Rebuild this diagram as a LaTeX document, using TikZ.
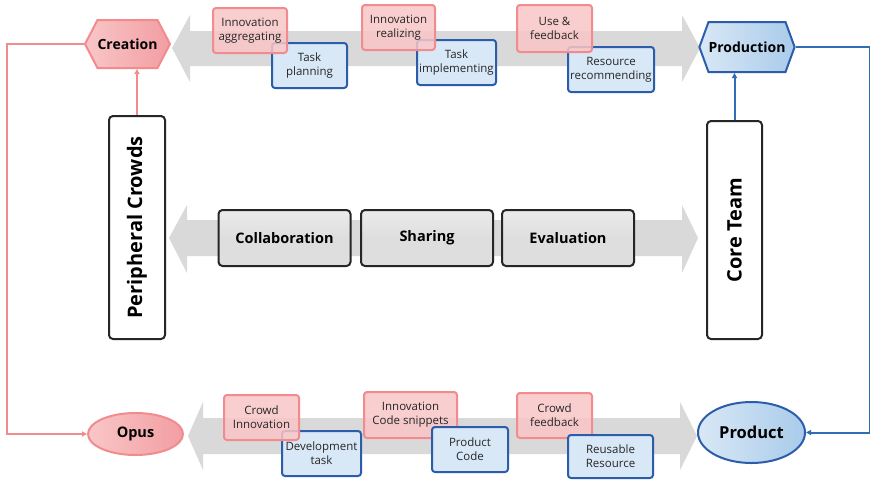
\documentclass[tikz,border=0pt]{standalone}
\usepackage{fontspec}
\setmainfont{Open Sans}
\usetikzlibrary{shapes.geometric,shapes.symbols,arrows.meta}

\definecolor{pinkline}{HTML}{F28B8E}
\definecolor{pinkfill}{HTML}{F9C6C7}
\definecolor{pinkdark}{HTML}{F29EA2}
\definecolor{blueline}{HTML}{2C5DAB}
\definecolor{bluefill}{HTML}{D9E8F6}
\definecolor{bluedark}{HTML}{A9CBEA}
\definecolor{bandgray}{HTML}{D9D9D9}
\definecolor{boxgray}{HTML}{DEDEDE}
\definecolor{linkblue}{HTML}{2F6DB5}

\begin{document}
\begin{tikzpicture}[x=1pt,y=-1pt,
  band/.style={fill=bandgray},
  pinkbox/.style={draw=pinkline, line width=2pt, fill=pinkfill, fill opacity=0.85,
    text opacity=1, rounded corners=3pt, align=center, inner sep=0pt,
    font=\fontsize{11.5}{14}\selectfont, text=black!85},
  bluebox/.style={draw=blueline, line width=2pt, fill=bluefill,
    rounded corners=3pt, align=center, inner sep=0pt,
    font=\fontsize{11.5}{14}\selectfont, text=black!85},
  midbox/.style={draw=black!85, line width=2pt, top color=boxgray!60, bottom color=boxgray,
    middle color=boxgray, rounded corners=4pt,
    minimum width=132pt, minimum height=56pt, font=\bfseries\fontsize{14.5}{16}\selectfont},
  rolebox/.style={draw=black!85, line width=2pt, fill=white, rounded corners=4pt,
    rotate=90, font=\bfseries\fontsize{20}{22}\selectfont},
  hexa/.style={shape=signal, signal to=west and east, line width=2pt,
    font=\bfseries\fontsize{14}{16}\selectfont, inner sep=0pt},
  oval/.style={ellipse, line width=2pt, inner sep=0pt},
  pinklink/.style={draw=pinkline, line width=2pt},
  bluelink/.style={draw=linkblue, line width=2pt},
  tip/.style={-{Triangle[length=5pt,width=5pt]}}
]
\useasboundingbox (0,0) rectangle (870,480);
\fill[white] (0,0) rectangle (870,480);

% three grey two-way bands
\fill[band] (172,48) -- (190,15) -- (190,31) -- (682,31) -- (682,15) -- (700,48)
  -- (682,82) -- (682,66) -- (190,66) -- (190,82) -- cycle;
\fill[band] (169,238) -- (187,205) -- (187,220) -- (682,220) -- (682,205) -- (698,238)
  -- (682,273) -- (682,256) -- (187,256) -- (187,273) -- cycle;
\fill[band] (188,436) -- (203,402) -- (203,418) -- (680,418) -- (680,402) -- (697,436)
  -- (680,470) -- (680,454) -- (203,454) -- (203,470) -- cycle;

% end points
\node[hexa, draw=pinkline, left color=pinkfill, right color=pinkdark,
  minimum width=85pt, minimum height=48pt, signal pointer angle=125] (crea) at (127.5,44) {Creation};
\node[hexa, draw=blueline, left color=bluefill, right color=bluedark,
  minimum width=92pt, minimum height=50pt, signal pointer angle=140] (prod) at (747,47) {Production};
\node[oval, draw=pinkline, left color=pinkfill, right color=pinkdark,
  minimum width=95pt, minimum height=42pt, font=\bfseries\fontsize{14.5}{16}\selectfont] (opus) at (135.5,434) {Opus};
\node[oval, draw=blueline, left color=bluefill, right color=bluedark,
  minimum width=107pt, minimum height=61pt, font=\bfseries\fontsize{16.5}{18}\selectfont] (product) at (751.5,432.5) {Product};

% actors
\node[rolebox, minimum width=223pt, minimum height=56pt] (peri) at (137,227.5) {Peripheral Crowds};
\node[rolebox, minimum width=218pt, minimum height=55pt] (core) at (734.5,230) {Core Team};

% middle activities
\node[midbox] (collab) at (284.5,238) {Collaboration};
\node[midbox] (share) at (427,238) {Sharing};
\node[midbox] (eval) at (568,238) {Evaluation};

% upper activities
\node[bluebox, minimum width=75pt, minimum height=45pt] (plan) at (309.5,65.5) {Task\\planning};
\node[bluebox, minimum width=79pt, minimum height=45pt] (impl) at (456.5,62.5) {Task\\implementing};
\node[bluebox, minimum width=86pt, minimum height=45pt] (recom) at (611,69.5) {Resource\\recommending};
\node[pinkbox, minimum width=74pt, minimum height=45pt] (aggr) at (250,30.5) {Innovation\\aggregating};
\node[pinkbox, minimum width=73pt, minimum height=45pt] (real) at (398.5,27.5) {Innovation\\realizing};
\node[pinkbox, minimum width=75pt, minimum height=47pt] (usefb) at (554.5,28.5) {Use \&\\feedback};

% lower activities
\node[bluebox, minimum width=79pt, minimum height=45pt] (devt) at (321.5,453.5) {Development\\task};
\node[pinkbox, minimum width=75pt, minimum height=45pt] (crowdi) at (261.5,417.5) {Crowd\\Innovation};
\node[pinkbox, minimum width=93pt, minimum height=46pt] (snip) at (410.5,415) {Innovation\\Code snippets};
\node[bluebox, minimum width=76pt, minimum height=45pt] (pcode) at (470,449.5) {Product\\Code};
\node[pinkbox, minimum width=75pt, minimum height=45pt] (crowdf) at (554.5,415.5) {Crowd\\feedback};
\node[bluebox, minimum width=85pt, minimum height=43pt] (reuse) at (610.5,456.5) {Reusable\\Resource};

% connectors
\coordinate (lt) at (7,44);
\coordinate (lb) at (7,434);
\coordinate (rt) at (869.5,47);
\coordinate (rb) at (869.5,432.5);
\draw[pinklink, tip] (crea.west) -- (lt) -- (lb) -- (opus.west);
\draw[pinklink, tip] (peri.east) -- (peri.east |- crea.south);
\draw[bluelink, tip] (core.east) -- (core.east |- prod.south);
\draw[bluelink, tip] (prod.east) -- (rt) -- (rb) -- (product.east);
\end{tikzpicture}
\end{document}
